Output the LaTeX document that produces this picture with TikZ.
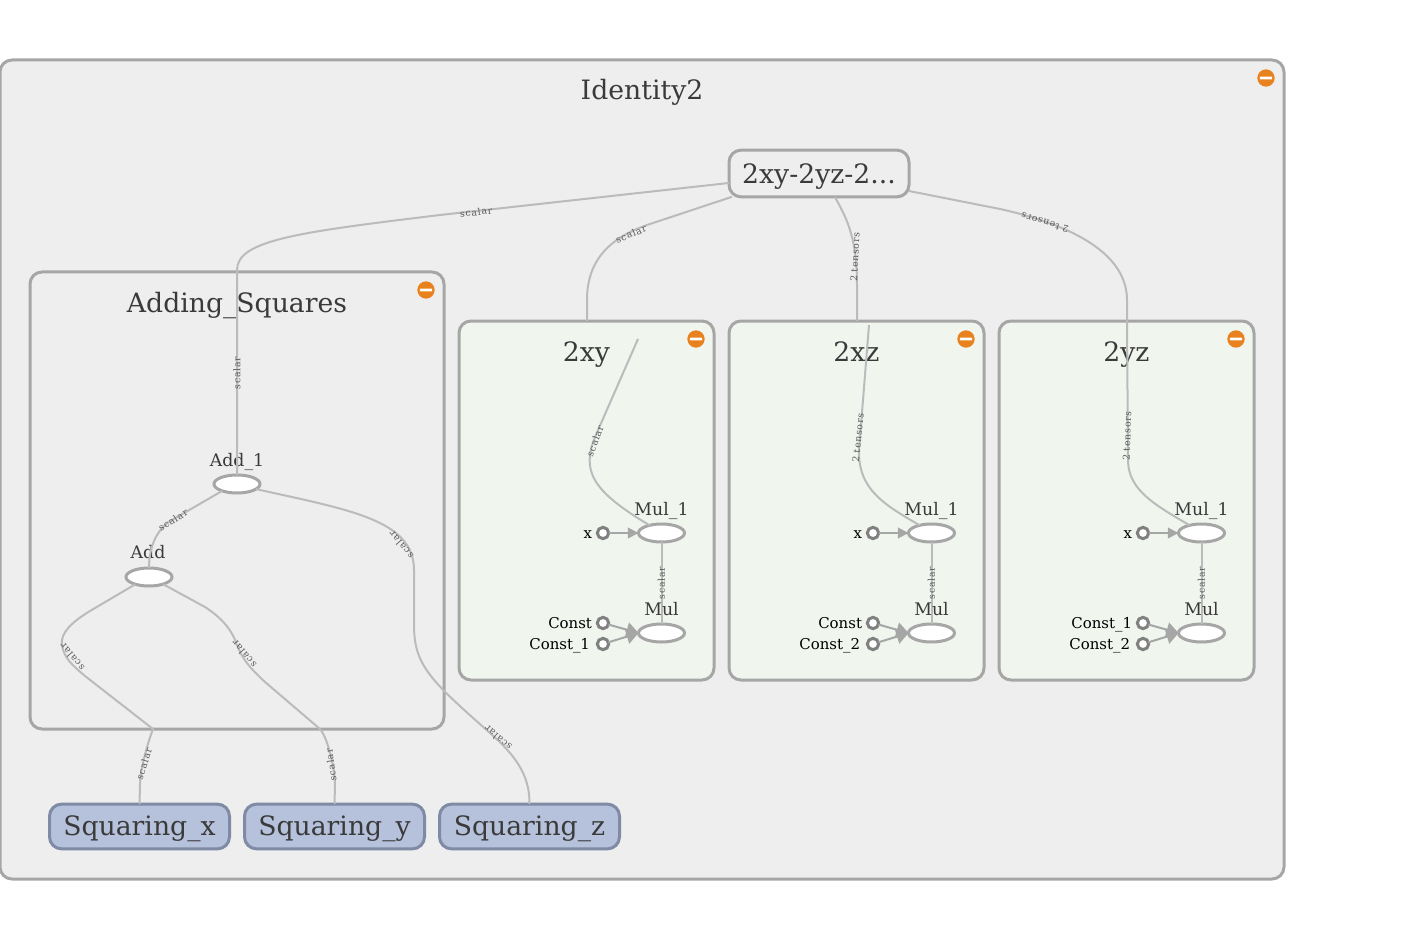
\documentclass[tikz,border=0pt]{standalone}
\usepackage{fontspec}
\setmainfont{DejaVu Serif}
\newfontfamily\edgefont[LetterSpace=8]{DejaVu Serif}
\usetikzlibrary{arrows.meta,shapes.geometric}
\definecolor{grpborder}{HTML}{A6A6A6}
\definecolor{grpfill}{HTML}{EEEEEE}
\definecolor{greenfill}{HTML}{F0F5EE}
\definecolor{metafill}{HTML}{B6C2DC}
\definecolor{metaborder}{HTML}{7F8AA5}
\definecolor{edgecol}{HTML}{BBBBBB}
\definecolor{btn}{HTML}{E8821E}
\definecolor{txt}{HTML}{3A3A3A}
\tikzset{
  x=0.75pt,y=-0.75pt,
  every node/.style={inner sep=0pt,outer sep=0pt},
  grp/.style={draw=grpborder,line width=2.25pt,fill=grpfill,rounded corners=9pt},
  greengrp/.style={grp,fill=greenfill},
  title/.style={text=txt,font=\fontsize{20}{20}\selectfont,anchor=base},
  opname/.style={text=txt,font=\fontsize{13}{13}\selectfont,anchor=base},
  constname/.style={text=black,font=\fontsize{11.2}{11.2}\selectfont,anchor=base east},
  metanode/.style={draw=grpborder,line width=2.25pt,fill=grpfill,rounded corners=9pt,minimum width=135pt,minimum height=35pt},
  squaring/.style={draw=metaborder,line width=2.25pt,fill=metafill,rounded corners=9pt,minimum width=135pt,minimum height=33.5pt,text=txt,font=\fontsize{20}{20}\selectfont,text height=16.5pt,text depth=3.5pt},
  opnode/.style={ellipse,draw=grpborder,line width=2.25pt,fill=white,minimum width=34.5pt,minimum height=13.5pt},
  constnode/.style={circle,draw=black!50,line width=2.25pt,fill=white,minimum size=8.5pt},
  edge/.style={draw=edgecol,line width=1.5pt},
  inedge/.style={draw=grpborder,line width=1.5pt,-{Triangle[length=8pt,width=8pt]}},
  constedge/.style={draw=grpborder,line width=1.5pt,-{Triangle[length=9pt,width=11pt]}},
  elabel/.style={text=black!65,font=\edgefont\fontsize{7}{7}\selectfont},
  minusbtn/.style={circle,fill=btn,minimum size=13pt,path picture={\fill[white,rounded corners=0.6pt] ([xshift=-4.6pt,yshift=-1.1pt]path picture bounding box.center) rectangle ([xshift=4.6pt,yshift=1.1pt]path picture bounding box.center);}}
}
\newcommand{\panelbox}[5]{% id, left x, title, const1 label, const2 label
  \node[greengrp,minimum width=191.25pt,minimum height=269.25pt,anchor=north west] (#1box) at (#2,321) {};
  \node[title] (#1title) at ({#2+127.5},361.5) {#3};
  \node[minusbtn] (#1btn) at ({#2+237},339) {};
  \node[opnode] (#1mula) at ({#2+202.5},533) {};
  \node[opnode] (#1mulb) at ({#2+202.5},633) {};
  \node[opname] (#1mulatext) at ({#2+202.5},515) {Mul\_1};
  \node[constnode] (#1x) at ({#2+144},533) {};
  \node[constnode] (#1ca) at ({#2+144},623) {};
  \node[constnode] (#1cb) at ({#2+144},644) {};
  \node[constname] (#1xtext) at ({#2+133},538) {x};
  \node[constname] (#1catext) at ({#2+133},628) {#4};
  \node[constname] (#1cbtext) at ({#2+131},649) {#5};
  \draw[inedge] (#1x) -- (#1mula);
  \draw[constedge] (#1ca) -- (#1mulb.west);
  \draw[constedge] (#1cb) -- (#1mulb.west);
  \draw[edge] (#1mula) -- (#1mulb);
  \node[elabel,rotate=90] (#1sc) at ({#2+202.5},583) {scalar};
  \node[opname] (#1mulbtext) at ({#2+202.5},615.5) {Mul};
}
\begin{document}
\begin{tikzpicture}
\useasboundingbox (0,0) rectangle (1404,938);
\fill[white] (0,0) rectangle (1404,938);
% outer group
\node[grp,minimum width=1284pt*0.75,minimum height=819pt*0.75,anchor=north west] (outer) at (0,60) {};
\node[title] (outertitle) at (642,100) {Identity2};
\node[minusbtn] (outerbtn) at (1266,78) {};
% adding squares group
\node[grp,minimum width=414pt*0.75,minimum height=457pt*0.75,anchor=north west] (adding) at (30,272) {};
\node[title] (addingtitle) at (237,312) {Adding\_Squares};
\node[minusbtn] (addingbtn) at (426,290) {};
% panels
\panelbox{p}{459}{2xy}{Const}{Const\_1}
\panelbox{q}{729}{2xz}{Const}{Const\_2}
\panelbox{r}{999}{2yz}{Const\_1}{Const\_2}
% top node and squaring nodes
\node[metanode] (top) at (819,173.5) {};
\node[title] (toptext) at (819,184) {2xy-2yz-2...};
\node[squaring] (sx) at (139.5,826.5) {Squaring\_x};
\node[squaring] (sy) at (334.5,826.5) {Squaring\_y};
\node[squaring] (sz) at (529.5,826.5) {Squaring\_z};
% add ops
\node[opnode] (addb) at (237,484) {};
\node[opnode] (adda) at (149,577) {};
\node[opname] (addbtext) at (237,466) {Add\_1};
\node[opname] (addatext) at (148,558.5) {Add};
% free ends
\coordinate (xyin) at (638,339);
\coordinate (xzin) at (869,325);
\coordinate (yzin) at (1127,321);
\coordinate (xybound) at (587,321);
\coordinate (xzbound) at (857,321);
\coordinate (xout) at (153,729);
\coordinate (yout) at (320,729);
% connectors
\draw[edge] (top.186) -- (440,215) .. controls (300,232) and (237,240) .. (237,270) -- (addb.north);
\draw[edge] (top.195) -- (647,225) .. controls (610,238) and (587,260) .. (587,300) -- (xybound);
\draw[edge] (top.-56) .. controls (848,220) and (857,240) .. (857,285) -- (xzbound);
\draw[edge] (top.-11.6) -- (1000,209) .. controls (1050,220) and (1127,245) .. (1127,300) -- (yzin);
\draw[edge] (xyin) -- (595,437) .. controls (582,470) and (590,490) .. (pmula.147);
\draw[edge] (xzin) -- (859,450) .. controls (858,490) and (885,505) .. (qmula.147);
\draw[edge] (yzin) -- (1128,460) .. controls (1128,490) and (1155,505) .. (rmula.147);
\draw[edge] (addb.205) -- (172,520) .. controls (158,528) and (149,545) .. (adda.north);
\draw[edge] (adda.208) -- (90,611) .. controls (72,622) and (60,633) .. (62,645) .. controls (64,658) and (72,665) .. (85,676) -- (xout) .. controls (147,745) and (140,770) .. (140,785) -- (sx.north);
\draw[edge] (adda.-27) -- (205,607) .. controls (222,618) and (232,630) .. (237,645) .. controls (243,660) and (250,668) .. (265,682) -- (yout) .. controls (328,738) and (335,770) .. (335,785) -- (sy.north);
\draw[edge] (addb.-15) .. controls (350,510) and (414,520) .. (414,570) -- (414,625) .. controls (414,665) and (430,680) .. (490,733) .. controls (515,755) and (530,775) .. (sz.north);
% edge labels
\node[elabel,rotate=7] (l1) at (476,212) {scalar};
\node[elabel,rotate=22] (l2) at (631,234) {scalar};
\node[elabel,rotate=87] (l3) at (855,257) {2 tensors};
\node[elabel,rotate=163] (l4) at (1045,223) {2 tensors};
\node[elabel,rotate=90] (l5) at (237,373) {scalar};
\node[elabel,rotate=70] (l6) at (595,441) {scalar};
\node[elabel,rotate=84] (l7) at (858,438) {2 tensors};
\node[elabel,rotate=88] (l8) at (1127,436) {2 tensors};
\node[elabel,rotate=32] (l9) at (173,520) {scalar};
\node[elabel,rotate=130] (l10) at (72,657) {scalar};
\node[elabel,rotate=130] (l11) at (244,654) {scalar};
\node[elabel,rotate=130] (l12) at (401,545) {scalar};
\node[elabel,rotate=140] (l13) at (498,738) {scalar};
\node[elabel,rotate=72] (l14) at (144,764) {scalar};
\node[elabel,rotate=98] (l15) at (331,765) {scalar};
\end{tikzpicture}
\end{document}
